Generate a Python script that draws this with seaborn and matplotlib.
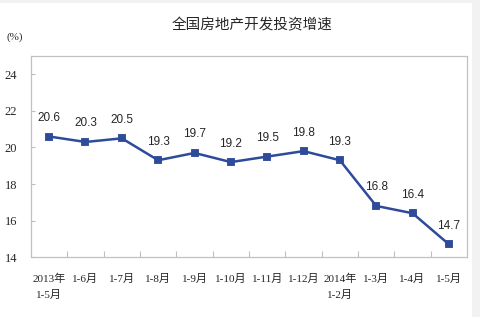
import matplotlib
matplotlib.use("Agg")
import matplotlib.pyplot as plt
import seaborn as sns
import pandas as pd
from matplotlib.patches import Rectangle

categories = ["2013年\n1-5月", "1-6月", "1-7月", "1-8月", "1-9月", "1-10月",
              "1-11月", "1-12月", "2014年\n1-2月", "1-3月", "1-4月", "1-5月"]
growth = [20.6, 20.3, 20.5, 19.3, 19.7, 19.2, 19.5, 19.8, 19.3, 16.8, 16.4, 14.7]
y_ticks = [14, 16, 18, 20, 22, 24]
title = "全国房地产开发投资增速"
unit = "(%)"

sns.set_theme(style="white")
plt.rcParams['font.family'] = ['Noto Sans CJK SC', 'DejaVu Sans']

df = pd.DataFrame({"cat": categories, "val": growth})

fig = plt.figure(figsize=(4.81, 3.17), dpi=100, facecolor="#f2f2f2")
fig.patches.append(Rectangle((0.0, 0.0), 0.981, 0.99, transform=fig.transFigure,
                             facecolor="white", edgecolor="none", zorder=-1))
ax = fig.add_axes([0.0644, 0.189, 0.9066, 0.634])
ax.set_facecolor("white")

line_color = "#2E4A9B"
sns.pointplot(data=df, x="cat", y="val", order=categories, color=line_color,
              markers="s", markersize=4.5, linewidth=1.8, ax=ax)

ax.set_xlim(-0.5, len(categories) - 0.5)
ax.set_ylim(14, 25)
ax.set_yticks(y_ticks)
ax.set_yticklabels([str(t) for t in y_ticks], family=["Liberation Serif"], fontsize=9)
ax.set_xlabel("")
ax.set_ylabel("")

ax.set_xticks(range(len(categories)))
ax.set_xticklabels(categories, fontsize=8, multialignment="center", linespacing=1.7,
                   family=["Liberation Serif", "Noto Sans CJK SC"])
ax.set_xticks([i + 0.5 for i in range(len(categories) - 1)], minor=True)
ax.tick_params(axis="x", which="major", length=0, pad=12)
ax.tick_params(axis="x", which="minor", direction="in", length=4, color="#bfbfbf", width=0.8, bottom=True)
ax.tick_params(axis="y", which="major", direction="in", length=3, color="#bfbfbf", width=0.8, pad=10, left=True)

for s in ax.spines.values():
    s.set_color("#c0c0c0")
    s.set_linewidth(0.9)

for i, v in enumerate(growth):
    ax.annotate(f"{v}", xy=(i, v), xytext=(0, 9), textcoords="offset points",
                ha="center", va="bottom", fontsize=8.5, family=["Liberation Sans"])

fig.text(0.524, 0.92, title, ha="center", va="center", fontsize=10.5)
fig.text(0.031, 0.883, unit, ha="center", va="center", fontsize=8, family=["Liberation Serif", "Noto Sans CJK SC"])

fig.savefig("out.png", dpi=100, facecolor=fig.get_facecolor())
